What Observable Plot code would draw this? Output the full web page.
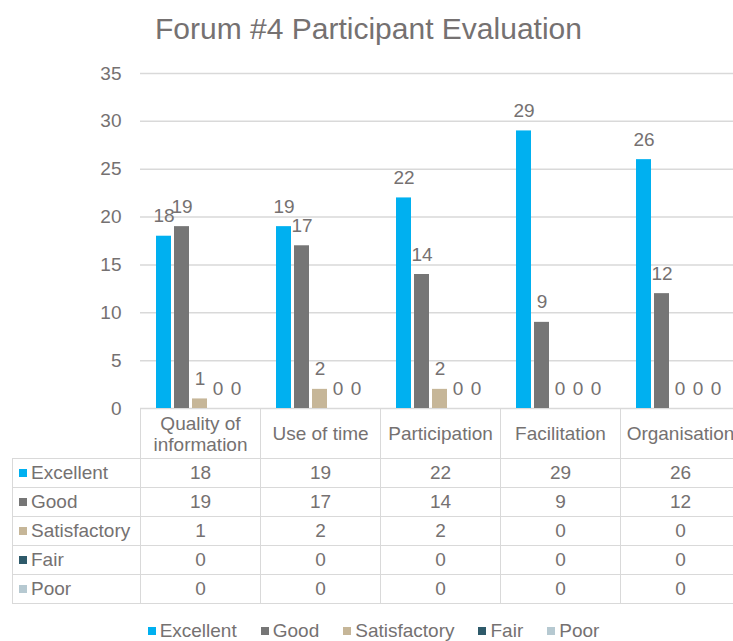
<!DOCTYPE html>
<html>
<head>
<meta charset="utf-8">
<script src="https://cdn.jsdelivr.net/npm/d3@7"></script>
<script src="https://cdn.jsdelivr.net/npm/@observablehq/plot@0.6"></script>
<style>
  html, body { margin: 0; padding: 0; background: #ffffff; }
  #wrap { position: relative; width: 733px; height: 641px; overflow: hidden; background: #ffffff;
          font-family: "Liberation Sans", Arial, sans-serif; color: #757171; }
  #title { position: absolute; top: 12px; left: 2px; width: 733px; text-align: center;
           font-size: 30px; line-height: 34px; }
  #chart { position: absolute; top: 50px; left: 0; width: 740px; }
  #chart svg { max-width: none !important; }
  #table { position: absolute; top: 408px; left: 12px; width: 728px; border-collapse: collapse; table-layout: fixed;
           font-size: 19px; color: #757171; }
  #table td { border: 1px solid #d9d9d9; text-align: center; vertical-align: middle; padding: 0; height: 28px;
              overflow: hidden; white-space: nowrap; }
  #table tr.head td { height: 49px; line-height: 21px; white-space: normal; }
  #table td.blank { border-top-style: hidden; border-left-style: hidden; }
  #table td.rowlab { text-align: left; padding-left: 6px; white-space: nowrap; }
  .sw { display: inline-block; width: 8px; height: 8px; margin-right: 4px; vertical-align: 2px; }
  #legend { position: absolute; top: 620px; left: 0; width: 747px; display: flex; justify-content: center;
            gap: 24px; font-size: 19px; line-height: 22px; }
</style>
</head>
<body>
<div id="wrap">
  <div id="title">Forum #4 Participant Evaluation</div>
  <div id="chart"></div>
  <table id="table"></table>
  <div id="legend"></div>
</div>
<script>
const title = "Forum #4 Participant Evaluation";
const categories = ["Quality of information", "Use of time", "Participation", "Facilitation", "Organisation"];
const series = ["Excellent", "Good", "Satisfactory", "Fair", "Poor"];
const excellent = [18, 19, 22, 29, 26];
const good = [19, 17, 14, 9, 12];
const satisfactory = [1, 2, 2, 0, 0];
const fair = [0, 0, 0, 0, 0];
const poor = [0, 0, 0, 0, 0];
const colors = ["#00b0f0", "#767676", "#c6b698", "#2e5a6a", "#b6c9d1"];
const yTicks = [0, 5, 10, 15, 20, 25, 30, 35];

const values = [excellent, good, satisfactory, fair, poor];
const data = [];
series.forEach((s, i) => categories.forEach((c, j) => data.push({category: c, series: s, value: values[i][j]})));

const textColor = "#757171";

const chart = Plot.plot({
  width: 740,
  height: 368,
  marginLeft: 140,
  marginRight: 0,
  marginTop: 23,
  marginBottom: 10,
  style: {fontFamily: "'Liberation Sans', Arial, sans-serif", fontSize: "19px", color: textColor, background: "transparent", overflow: "visible", maxWidth: "none"},
  fx: {domain: categories, padding: 0, axis: null},
  x: {domain: series, paddingInner: 0.15, paddingOuter: 0.8, axis: null},
  y: {domain: [0, 35], ticks: yTicks, tickSize: 0, tickPadding: 19, label: null},
  color: {domain: series, range: colors},
  marks: [
    Plot.ruleY(yTicks, {stroke: "#d9d9d9", strokeWidth: 1.5}),
    Plot.barY(data, {fx: "category", x: "series", y: "value", fill: "series"}),
    Plot.text(data, {fx: "category", x: "series", y: "value", text: d => String(d.value), dy: -20, fill: textColor, fontSize: 19})
  ]
});
document.getElementById("chart").appendChild(chart);

// data table
const table = document.getElementById("table");
const colgroup = document.createElement("colgroup");
[128, ...categories.map(() => 120)].forEach(w => {
  const col = document.createElement("col");
  col.style.width = w + "px";
  colgroup.appendChild(col);
});
table.appendChild(colgroup);
const head = document.createElement("tr");
head.className = "head";
const blank = document.createElement("td");
blank.className = "blank";
head.appendChild(blank);
categories.forEach(c => {
  const td = document.createElement("td");
  td.textContent = c;
  head.appendChild(td);
});
table.appendChild(head);
series.forEach((s, i) => {
  const tr = document.createElement("tr");
  const lab = document.createElement("td");
  lab.className = "rowlab";
  const sw = document.createElement("span");
  sw.className = "sw";
  sw.style.background = colors[i];
  lab.appendChild(sw);
  lab.appendChild(document.createTextNode(s));
  tr.appendChild(lab);
  values[i].forEach(v => {
    const td = document.createElement("td");
    td.textContent = v;
    tr.appendChild(td);
  });
  table.appendChild(tr);
});

// legend
const legend = document.getElementById("legend");
series.forEach((s, i) => {
  const item = document.createElement("span");
  const sw = document.createElement("span");
  sw.className = "sw";
  sw.style.background = colors[i];
  item.appendChild(sw);
  item.appendChild(document.createTextNode(s));
  legend.appendChild(item);
});
</script>
</body>
</html>
